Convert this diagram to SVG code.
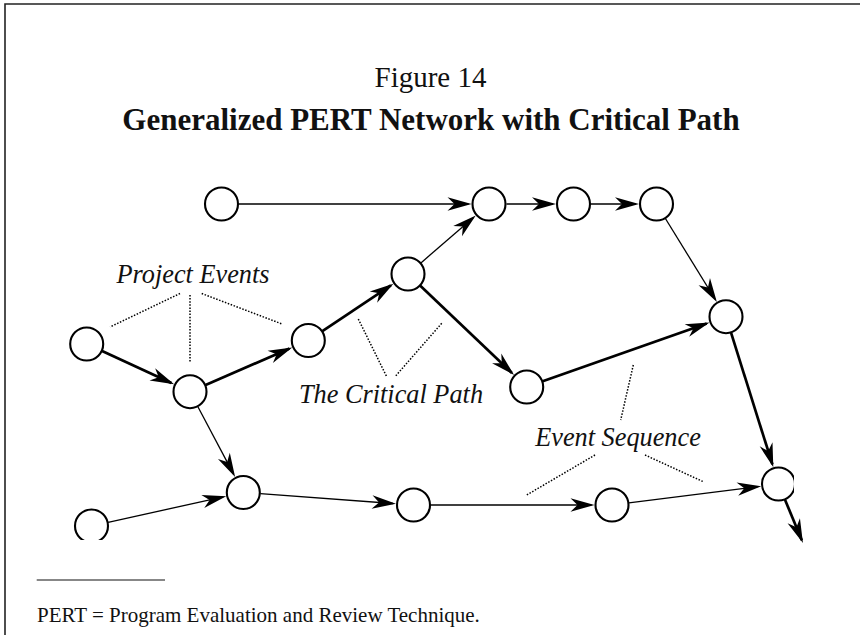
<svg xmlns="http://www.w3.org/2000/svg" width="860" height="635" viewBox="0 0 860 635">
<style>
.ev{fill:#fff;stroke:#000;stroke-width:2.1}
.thin{stroke:#000;stroke-width:1.3;fill:none;marker-end:url(#ah)}
.thick{stroke:#000;stroke-width:2.7;fill:none;marker-end:url(#ah)}
.dot{stroke:#000;stroke-width:1.5;stroke-dasharray:1.5 1.6;fill:none}
.lbl{font-family:"Liberation Serif","Times New Roman",serif;font-style:italic;font-size:26.3px;fill:#111;text-anchor:middle}
.frame{stroke:#222;stroke-width:1.6;fill:none}
</style>
<defs>
<marker id="ah" markerUnits="userSpaceOnUse" viewBox="-22 -8 26 16" refX="0" refY="0" markerWidth="26" markerHeight="16" orient="auto">
<path d="M3,0 L-21,-6.7 L-14,0 L-21,6.7 Z" fill="#000"/>
</marker>
<clipPath id="clipBL"><rect x="0" y="0" width="860" height="540"/></clipPath>
<clipPath id="clipR"><rect x="0" y="0" width="794" height="635"/></clipPath>
</defs>
<rect x="0" y="0" width="860" height="635" fill="#fff"/>
<path class="frame" d="M5,635 L5,4 L860,4"/>
<text x="430.5" y="87" font-family="Liberation Serif, Times New Roman, serif" font-size="29" text-anchor="middle" fill="#111">Figure 14</text>
<text x="431" y="129.5" font-family="Liberation Serif, Times New Roman, serif" font-size="31" font-weight="bold" text-anchor="middle" fill="#111">Generalized PERT Network with Critical Path</text>
<g id="connectors">
<line class="thin" x1="239" y1="204" x2="468.5" y2="204"/>
<line class="thin" x1="506.5" y1="204" x2="553" y2="204"/>
<line class="thin" x1="591" y1="204" x2="636" y2="204"/>
<line class="thin" x1="665.4" y1="218.5" x2="715.3" y2="299.5"/>
<line class="thin" x1="420.9" y1="262.9" x2="473.5" y2="217.4"/>
<line class="thick" x1="102.1" y1="351.1" x2="171.4" y2="383.1"/>
<line class="thick" x1="205.6" y1="384.9" x2="289.5" y2="348.6"/>
<line class="thick" x1="322.4" y1="331.1" x2="390.9" y2="285.4"/>
<line class="thick" x1="420.3" y1="285.7" x2="511.9" y2="372.9"/>
<line class="thick" x1="542.7" y1="381.3" x2="706.7" y2="323.5"/>
<line class="thick" x1="731.1" y1="332.9" x2="772.4" y2="464.4"/>
<line class="thick" x1="785" y1="499.7" x2="801.8" y2="540.2"/>
<line class="thin" x1="197.9" y1="406.7" x2="233.7" y2="474.4"/>
<line class="thin" x1="108.1" y1="522.3" x2="223.3" y2="496.9"/>
<line class="thin" x1="260.3" y1="493.7" x2="393" y2="503.5"/>
<line class="thin" x1="430.5" y1="505" x2="591.5" y2="505"/>
<line class="thin" x1="628.9" y1="502.9" x2="758.2" y2="486.6"/>
</g>
<g id="n1"><circle class="ev" cx="221.5" cy="204" r="16.5"/></g>
<g id="n2"><circle class="ev" cx="489" cy="204" r="16.5"/></g>
<g id="n3"><circle class="ev" cx="573.5" cy="204" r="16.5"/></g>
<g id="n4"><circle class="ev" cx="656.5" cy="204" r="16.5"/></g>
<g id="n5"><circle class="ev" cx="408" cy="274" r="16.5"/></g>
<g id="n6"><circle class="ev" cx="308.3" cy="340.5" r="16.5"/></g>
<g id="n7"><circle class="ev" cx="526.7" cy="387" r="16.5"/></g>
<g id="n8"><circle class="ev" cx="726" cy="316.7" r="16.5"/></g>
<g id="n9"><circle class="ev" cx="86.7" cy="344" r="16.5"/></g>
<g id="n10"><circle class="ev" cx="190" cy="391.7" r="16.5"/></g>
<g id="n11"><circle class="ev" cx="243.3" cy="492.5" r="16.5"/></g>
<g id="n12"><circle class="ev" cx="91.5" cy="526" r="16.5" clip-path="url(#clipBL)"/></g>
<g id="n13"><circle class="ev" cx="413.5" cy="505" r="16.5"/></g>
<g id="n14"><circle class="ev" cx="612" cy="505" r="16.5"/></g>
<g id="n15"><circle class="ev" cx="778.5" cy="484" r="16.5" clip-path="url(#clipR)"/></g>
<g id="label-project-events">
<text class="lbl" x="193" y="282.7">Project Events</text>
<line class="dot" x1="180" y1="293.5" x2="110" y2="327"/>
<line class="dot" x1="190" y1="295" x2="190" y2="363"/>
<line class="dot" x1="201.7" y1="293.5" x2="282" y2="324"/>
</g>
<g id="label-critical-path">
<text class="lbl" x="391" y="402.7">The Critical Path</text>
<line class="dot" x1="358.3" y1="319" x2="386.7" y2="376.7"/>
<line class="dot" x1="441.7" y1="323.3" x2="395" y2="376.7"/>
</g>
<g id="label-event-sequence">
<text class="lbl" x="618" y="446">Event Sequence</text>
<line class="dot" x1="633.3" y1="365" x2="620.7" y2="420"/>
<line class="dot" x1="595" y1="455" x2="526.7" y2="495"/>
<line class="dot" x1="645" y1="455" x2="703.3" y2="481.7"/>
</g>
<g id="footnote">
<line x1="36.7" y1="580" x2="165" y2="580" stroke="#111" stroke-width="1.2"/>
<text x="37" y="621.7" font-family="Liberation Serif, Times New Roman, serif" font-size="21" fill="#111">PERT = Program Evaluation and Review Technique.</text>
</g>
</svg>
